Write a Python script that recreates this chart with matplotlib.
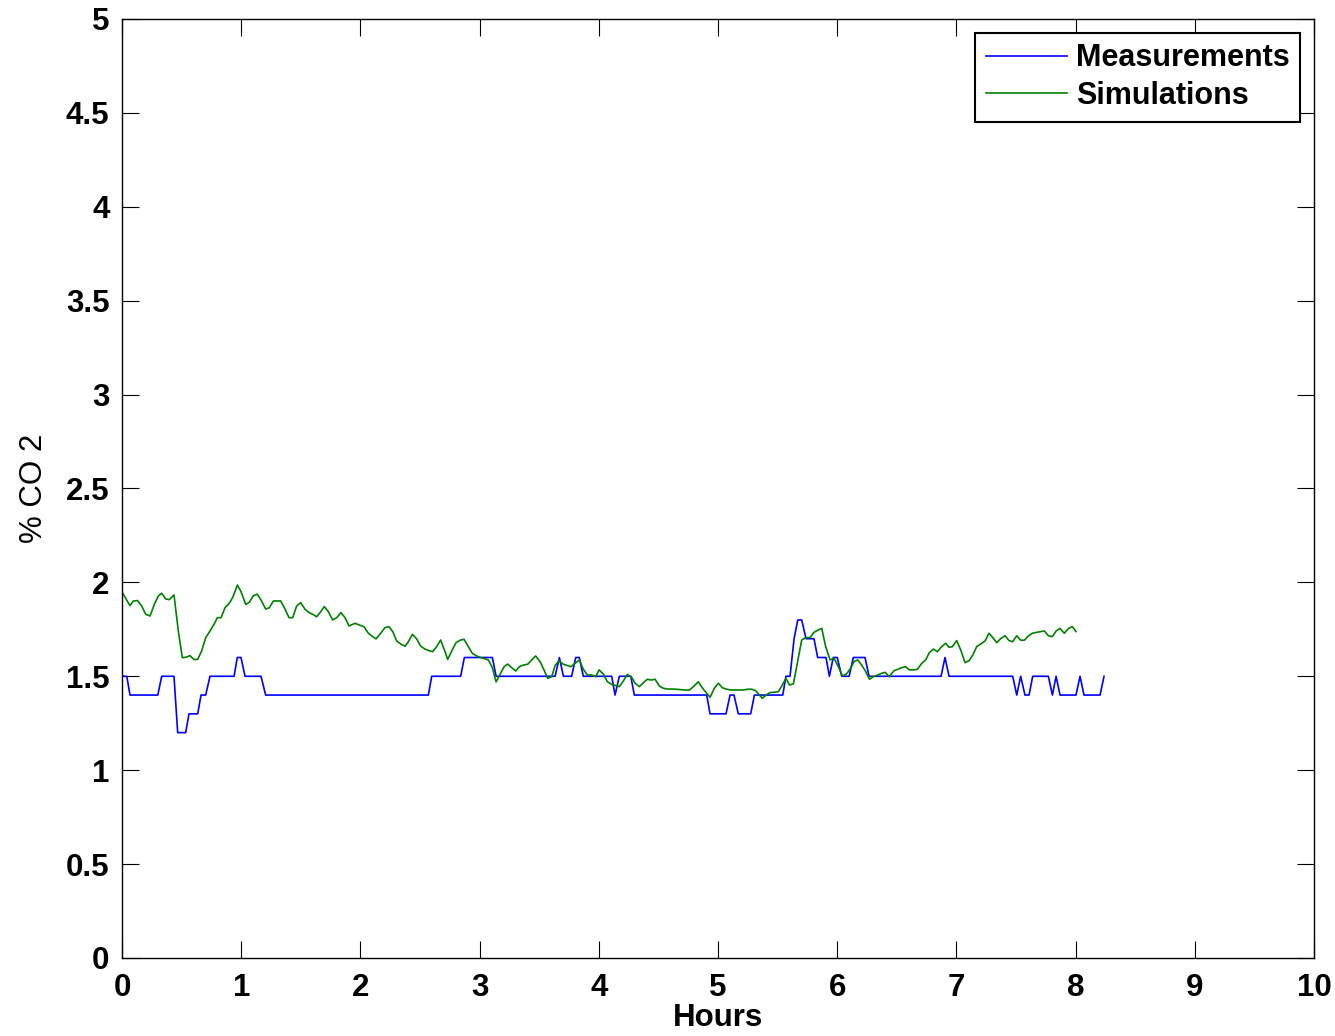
import matplotlib
matplotlib.use('Agg')
import matplotlib.pyplot as plt

plt.rcParams['font.family'] = ['Liberation Sans', 'DejaVu Sans']

# measured CO2 (breakpoints of the step-like sensor trace)
meas_t = [0, 0.04, 0.067, 0.30, 0.333, 0.436, 0.467, 0.534, 0.562, 0.635, 0.663, 0.702, 0.738,
          0.94, 0.967, 0.998, 1.032, 1.166, 1.205, 2.57, 2.598, 2.841, 2.872, 3.107, 3.138,
          3.633, 3.669, 3.703, 3.772, 3.806, 3.836, 3.87, 4.108, 4.136, 4.172, 4.268, 4.298,
          4.905, 4.933, 5.067, 5.101, 5.134, 5.17, 5.274, 5.305, 5.543, 5.57, 5.604, 5.638,
          5.669, 5.702, 5.738, 5.805, 5.836, 5.906, 5.934, 5.967, 6.0, 6.038, 6.1, 6.135,
          6.233, 6.267, 6.871, 6.904, 6.938, 7.472, 7.506, 7.539, 7.575, 7.609, 7.64, 7.771,
          7.805, 7.836, 7.869, 8.003, 8.037, 8.07, 8.205, 8.238]
meas_v = [1.5, 1.5, 1.4, 1.4, 1.5, 1.5, 1.2, 1.2, 1.3, 1.3, 1.4, 1.4, 1.5,
          1.5, 1.6, 1.6, 1.5, 1.5, 1.4, 1.4, 1.5, 1.5, 1.6, 1.6, 1.5,
          1.5, 1.6, 1.5, 1.5, 1.6, 1.6, 1.5, 1.5, 1.4, 1.5, 1.5, 1.4,
          1.4, 1.3, 1.3, 1.4, 1.4, 1.3, 1.3, 1.4, 1.4, 1.5, 1.5, 1.7,
          1.8, 1.8, 1.7, 1.7, 1.6, 1.6, 1.5, 1.6, 1.6, 1.5, 1.5, 1.6,
          1.6, 1.5, 1.5, 1.6, 1.5, 1.5, 1.4, 1.5, 1.4, 1.4, 1.5, 1.5,
          1.4, 1.5, 1.4, 1.4, 1.5, 1.4, 1.4, 1.5]

# simulated CO2
sim_t = [0.003, 0.067, 0.095, 0.131, 0.165, 0.199, 0.235, 0.271, 0.305, 0.333, 0.366, 0.397,
         0.436, 0.473, 0.506, 0.534, 0.570, 0.604, 0.635, 0.668, 0.702, 0.738, 0.772, 0.800,
         0.831, 0.864, 0.900, 0.928, 0.968, 0.998, 1.037, 1.068, 1.102, 1.135, 1.166, 1.205,
         1.236, 1.270, 1.303, 1.331, 1.362, 1.401, 1.432, 1.465, 1.499, 1.535, 1.569, 1.600,
         1.633, 1.667, 1.697, 1.731, 1.767, 1.801, 1.837, 1.871, 1.904,
         1.955, 1.991, 2.030, 2.067, 2.103, 2.131, 2.170, 2.206, 2.240, 2.271, 2.304, 2.338,
         2.374, 2.402, 2.436, 2.472, 2.506, 2.542, 2.576, 2.606, 2.640, 2.673, 2.710, 2.732,
         2.766, 2.802, 2.836, 2.869, 2.905, 2.939, 2.970, 3.003, 3.040, 3.073, 3.107, 3.138,
         3.171, 3.205, 3.235, 3.269, 3.303, 3.333, 3.367, 3.403, 3.437, 3.470, 3.507, 3.540,
         3.571, 3.605, 3.633, 3.666, 3.702, 3.736, 3.767, 3.800, 3.837, 3.870, 3.904, 3.940,
         3.974,
         4.002, 4.038, 4.072, 4.108, 4.144, 4.172, 4.206, 4.239, 4.276, 4.304, 4.340, 4.374,
         4.407, 4.438, 4.472, 4.508, 4.541, 4.578, 4.611, 4.648, 4.681, 4.718, 4.760, 4.799,
         4.835, 4.871, 4.933, 4.969, 5.003, 5.036, 5.073, 5.106, 5.143, 5.179, 5.213, 5.249,
         5.283, 5.316, 5.347, 5.372, 5.403, 5.436, 5.473, 5.506, 5.540, 5.570, 5.598, 5.632,
         5.668, 5.702, 5.736, 5.772, 5.805, 5.842, 5.870, 5.903,
         5.940, 5.973, 6.010, 6.043, 6.074, 6.107, 6.141, 6.172, 6.205, 6.239, 6.270, 6.303,
         6.340, 6.373, 6.401, 6.437, 6.477, 6.507, 6.541, 6.574, 6.605, 6.639, 6.672, 6.709,
         6.742, 6.773, 6.807, 6.840, 6.876, 6.910, 6.938, 6.966, 7.002, 7.036, 7.072, 7.106,
         7.137, 7.170, 7.204, 7.240, 7.273, 7.304, 7.338, 7.374, 7.408, 7.441, 7.472, 7.506,
         7.539, 7.570, 7.604, 7.637, 7.673, 7.707, 7.738, 7.771, 7.805, 7.836, 7.869, 7.905,
         7.941, 7.973, 8.003]
sim_v = [1.945, 1.876, 1.901, 1.903, 1.874, 1.830, 1.821, 1.883, 1.928, 1.942, 1.912, 1.908,
         1.933, 1.738, 1.599, 1.601, 1.610, 1.589, 1.590, 1.635, 1.706, 1.741, 1.777, 1.812,
         1.812, 1.865, 1.889, 1.919, 1.986, 1.951, 1.883, 1.894, 1.929, 1.937, 1.906, 1.858,
         1.865, 1.901, 1.901, 1.901, 1.865, 1.812, 1.812, 1.874, 1.892, 1.857, 1.839, 1.830,
         1.817, 1.844, 1.871, 1.844, 1.800, 1.812, 1.839, 1.812, 1.768,
         1.782, 1.773, 1.764, 1.729, 1.711, 1.699, 1.729, 1.759, 1.764, 1.738, 1.688, 1.672,
         1.660, 1.684, 1.723, 1.699, 1.660, 1.645, 1.636, 1.631, 1.658, 1.693, 1.631, 1.590,
         1.635, 1.679, 1.692, 1.697, 1.658, 1.622, 1.610, 1.601, 1.594, 1.587, 1.546, 1.470,
         1.510, 1.551, 1.565, 1.546, 1.528, 1.551, 1.560, 1.564, 1.587, 1.608, 1.578, 1.534,
         1.489, 1.498, 1.557, 1.583, 1.564, 1.557, 1.551, 1.569, 1.587, 1.537, 1.507, 1.507,
         1.498,
         1.534, 1.512, 1.471, 1.457, 1.450, 1.445, 1.475, 1.510, 1.494, 1.463, 1.445, 1.466,
         1.484, 1.480, 1.484, 1.448, 1.436, 1.432, 1.432, 1.431, 1.429, 1.427, 1.427, 1.448,
         1.471, 1.436, 1.388, 1.436, 1.463, 1.439, 1.431, 1.427, 1.427, 1.427, 1.427, 1.431,
         1.431, 1.423, 1.400, 1.383, 1.400, 1.413, 1.415, 1.418, 1.454, 1.489, 1.454, 1.459,
         1.578, 1.693, 1.706, 1.706, 1.734, 1.747, 1.755, 1.658,
         1.587, 1.596, 1.551, 1.502, 1.510, 1.537, 1.578, 1.587, 1.560, 1.525, 1.484, 1.498,
         1.507, 1.516, 1.521, 1.498, 1.530, 1.537, 1.546, 1.551, 1.534, 1.534, 1.537, 1.569,
         1.587, 1.626, 1.645, 1.631, 1.658, 1.676, 1.654, 1.658, 1.690, 1.640, 1.573, 1.583,
         1.613, 1.658, 1.672, 1.688, 1.729, 1.707, 1.679, 1.702, 1.716, 1.690, 1.684, 1.716,
         1.692, 1.692, 1.715, 1.729, 1.734, 1.738, 1.741, 1.716, 1.711, 1.741, 1.755, 1.729,
         1.755, 1.764, 1.738]

fig = plt.figure(figsize=(13.35, 10.36), dpi=100)
ax = fig.add_axes([0.0914, 0.0753, 0.8929, 0.9064])

ax.plot(meas_t, meas_v, color=(0, 0, 1), lw=1.2, label='Measurements')
ax.plot(sim_t, sim_v, color=(0, 0.5, 0), lw=1.2, label='Simulations')

ax.set_xlim(0, 10)
ax.set_ylim(0, 5)
ax.set_xticks(range(0, 11))
ax.set_yticks([0, 0.5, 1, 1.5, 2, 2.5, 3, 3.5, 4, 4.5, 5])
ax.set_yticklabels(['0', '0.5', '1', '1.5', '2', '2.5', '3', '3.5', '4', '4.5', '5'])
ax.tick_params(direction='in', length=12, width=0.8, top=True, right=True,
               labelsize=22.5, pad=9)
ax.tick_params(axis='x', pad=11)
for lab in ax.get_xticklabels() + ax.get_yticklabels():
    lab.set_fontweight('bold')
for s in ax.spines.values():
    s.set_linewidth(1.0)

ax.set_xlabel('Hours', fontsize=22.5, fontweight='bold', labelpad=0)
ax.set_ylabel('% CO 2', fontsize=22.5, labelpad=12)

leg = ax.legend(loc='upper right', prop={'size': 22, 'weight': 'bold'},
                handlelength=2.65, handletextpad=0.3, labelspacing=0.25,
                borderpad=0.35, borderaxespad=0.45, fancybox=False, framealpha=1)
leg.get_frame().set_edgecolor('black')
leg.get_frame().set_linewidth(1.5)

fig.savefig('out.png', dpi=100)
